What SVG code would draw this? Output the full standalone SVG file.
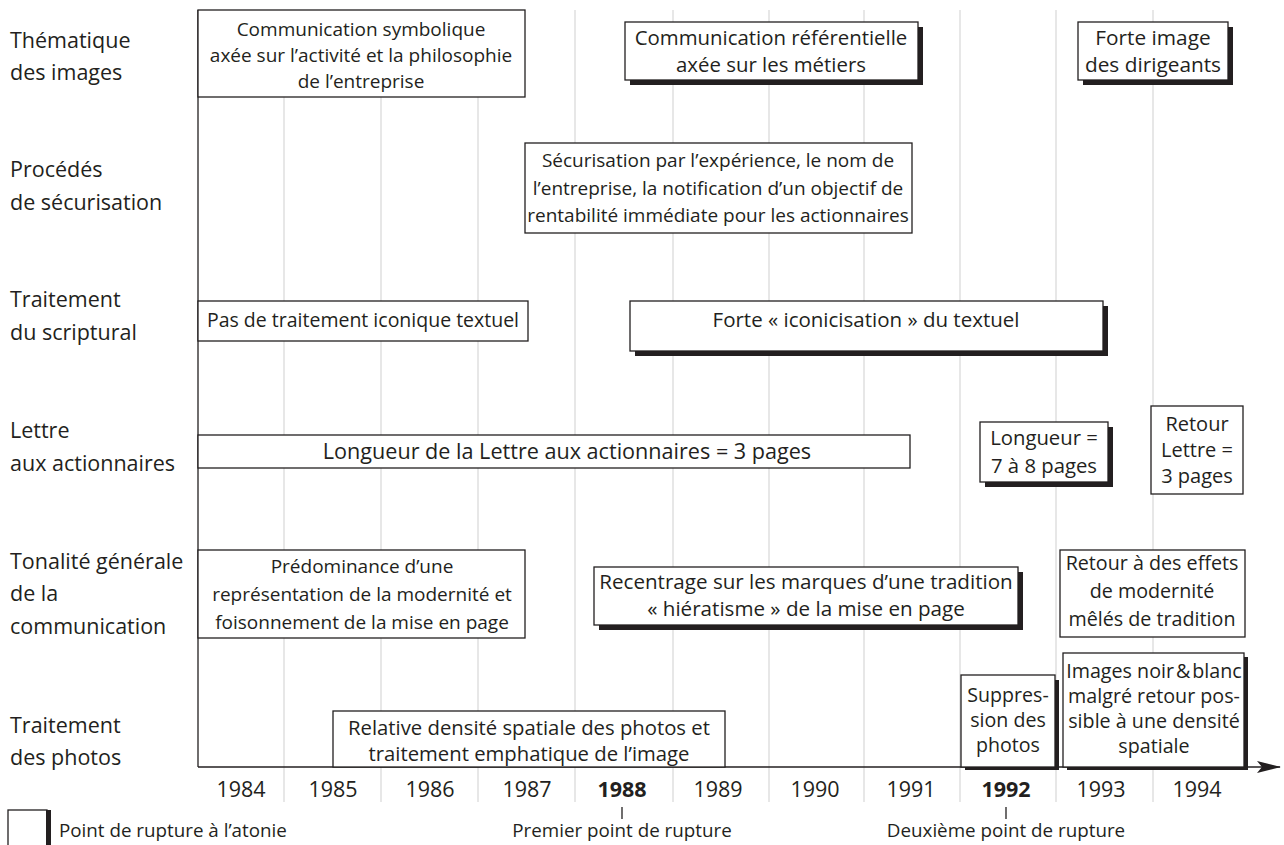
<svg xmlns="http://www.w3.org/2000/svg" width="1284" height="845" viewBox="0 0 1284 845">
<style>
text{font-family:"Open Sans","Noto Sans","DejaVu Sans",sans-serif;fill:#231f20}
.lab{font-size:21.5px}
.bt{font-size:19px;text-anchor:middle}
.yr{font-size:21.5px;text-anchor:middle}
.yb{font-weight:bold}
.lg{font-size:18.8px}
.grid{stroke:#cfcfcf;stroke-width:1}
.box{fill:#fff;stroke:#231f20;stroke-width:1.3}
.sh{fill:#231f20}
.ax{stroke:#231f20;stroke-width:1.3;fill:none}
</style>
<defs>
<marker id="arr" markerWidth="24" markerHeight="14" refX="23" refY="7" orient="auto" markerUnits="userSpaceOnUse">
<path d="M0,1 L24,7 L0,13 L5,7 Z" fill="#231f20"/>
</marker>
</defs>

<g id="grid">
<line class="grid" x1="284" y1="10" x2="284" y2="802"/>
<line class="grid" x1="381" y1="10" x2="381" y2="802"/>
<line class="grid" x1="478" y1="10" x2="478" y2="802"/>
<line class="grid" x1="575" y1="10" x2="575" y2="802"/>
<line class="grid" x1="673" y1="10" x2="673" y2="802"/>
<line class="grid" x1="769" y1="10" x2="769" y2="802"/>
<line class="grid" x1="864" y1="10" x2="864" y2="802"/>
<line class="grid" x1="960" y1="10" x2="960" y2="802"/>
<line class="grid" x1="1056" y1="10" x2="1056" y2="802"/>
<line class="grid" x1="1153" y1="10" x2="1153" y2="802"/>
</g>

<g id="row-labels">
<text class="lab" x="10" y="48">Thématique</text>
<text class="lab" x="10" y="80">des images</text>
<text class="lab" x="10" y="177">Procédés</text>
<text class="lab" x="10" y="210">de sécurisation</text>
<text class="lab" x="10" y="307">Traitement</text>
<text class="lab" x="10" y="340">du scriptural</text>
<text class="lab" x="10" y="438">Lettre</text>
<text class="lab" x="10" y="471">aux actionnaires</text>
<text class="lab" x="10" y="569">Tonalité générale</text>
<text class="lab" x="10" y="601">de la</text>
<text class="lab" x="10" y="634">communication</text>
<text class="lab" x="10" y="733">Traitement</text>
<text class="lab" x="10" y="765">des photos</text>
</g>

<g id="axes">
<line class="ax" x1="198" y1="10" x2="198" y2="767"/>
<line class="ax" x1="198" y1="767" x2="1280" y2="767" marker-end="url(#arr)"/>
</g>

<g id="n1">
<rect class="box" x="198" y="10" width="327" height="87"/>
<text class="bt" x="361" y="36">Communication symbolique</text>
<text class="bt" x="361" y="62">axée sur l’activité et la philosophie</text>
<text class="bt" x="361" y="88">de l’entreprise</text>
</g>
<g id="n2">
<rect class="sh" x="630" y="27" width="293" height="58"/>
<rect class="box" x="625" y="22" width="293" height="58"/>
<text class="bt" style="font-size:20.4px" x="771" y="45">Communication référentielle</text>
<text class="bt" style="font-size:20.4px" x="771" y="72">axée sur les métiers</text>
</g>
<g id="n3">
<rect class="sh" x="1083" y="27" width="150" height="58"/>
<rect class="box" x="1078" y="22" width="150" height="58"/>
<text class="bt" style="font-size:20.8px" x="1153" y="45">Forte image</text>
<text class="bt" style="font-size:20.8px" x="1153" y="72">des dirigeants</text>
</g>
<g id="n4">
<rect class="box" x="525" y="143" width="387" height="90"/>
<text class="bt" x="718" y="167">Sécurisation par l’expérience, le nom de</text>
<text class="bt" x="718" y="195">l’entreprise, la notification d’un objectif de</text>
<text class="bt" x="718" y="222">rentabilité immédiate pour les actionnaires</text>
</g>
<g id="n5">
<rect class="box" x="198" y="301" width="330" height="40"/>
<text class="bt" style="font-size:19.5px" x="363" y="327">Pas de traitement iconique textuel</text>
</g>
<g id="n6">
<rect class="sh" x="635" y="306" width="473" height="50"/>
<rect class="box" x="630" y="301" width="473" height="50"/>
<text class="bt" style="font-size:20.5px" x="866" y="327">Forte « iconicisation » du textuel</text>
</g>
<g id="n7">
<rect class="box" x="198" y="435" width="712" height="33"/>
<text class="bt" style="font-size:21.6px" x="567" y="459">Longueur de la Lettre aux actionnaires = 3 pages</text>
</g>
<g id="n8">
<rect class="sh" x="985" y="427" width="128" height="60"/>
<rect class="box" x="980" y="422" width="128" height="60"/>
<text class="bt" style="font-size:20.3px" x="1044" y="445">Longueur =</text>
<text class="bt" style="font-size:20.3px" x="1044" y="473">7 à 8 pages</text>
</g>
<g id="n9">
<rect class="box" x="1151" y="406" width="92" height="88"/>
<text class="bt" style="font-size:20px" x="1197" y="431">Retour</text>
<text class="bt" style="font-size:20px" x="1197" y="457">Lettre =</text>
<text class="bt" style="font-size:20px" x="1197" y="483">3 pages</text>
</g>
<g id="n10">
<rect class="box" x="198" y="550" width="327" height="88"/>
<text class="bt" x="362" y="573">Prédominance d’une</text>
<text class="bt" x="362" y="601">représentation de la modernité et</text>
<text class="bt" x="362" y="629">foisonnement de la mise en page</text>
</g>
<g id="n11">
<rect class="sh" x="599" y="572" width="424" height="58"/>
<rect class="box" x="594" y="567" width="424" height="58"/>
<text class="bt" style="font-size:20.6px" x="806" y="589">Recentrage sur les marques d’une tradition</text>
<text class="bt" style="font-size:20.6px" x="806" y="616">« hiératisme » de la mise en page</text>
</g>
<g id="n12">
<rect class="box" x="1060" y="550" width="185" height="87"/>
<text class="bt" style="font-size:19.7px" x="1152" y="570">Retour à des effets</text>
<text class="bt" style="font-size:19.7px" x="1152" y="598">de modernité</text>
<text class="bt" style="font-size:19.7px" x="1152" y="626">mêlés de tradition</text>
</g>
<g id="n13">
<rect class="box" x="333" y="711" width="392" height="56"/>
<text class="bt" style="font-size:20.3px" x="529" y="735">Relative densité spatiale des photos et</text>
<text class="bt" style="font-size:20.3px" x="529" y="761">traitement emphatique de l’image</text>
</g>
<g id="n14">
<rect class="sh" x="965" y="680" width="94" height="90"/>
<rect class="box" x="961" y="675" width="94" height="92"/>
<text class="bt" style="font-size:19.6px" x="1008" y="702">Suppres-</text>
<text class="bt" style="font-size:19.6px" x="1008" y="727">sion des</text>
<text class="bt" style="font-size:19.6px" x="1008" y="752">photos</text>
</g>
<g id="n15">
<rect class="sh" x="1067" y="657" width="181" height="113"/>
<rect class="box" x="1063" y="653" width="181" height="114"/>
<text class="bt" style="font-size:19.7px" x="1154" y="678">Images noir&#8202;&amp;&#8202;blanc</text>
<text class="bt" style="font-size:19.7px" x="1154" y="703">malgré retour pos-</text>
<text class="bt" style="font-size:19.7px" x="1154" y="728">sible à une densité</text>
<text class="bt" style="font-size:19.7px" x="1154" y="753">spatiale</text>
</g>

<g id="years">
<text class="yr" x="241" y="797">1984</text>
<text class="yr" x="333" y="797">1985</text>
<text class="yr" x="430" y="797">1986</text>
<text class="yr" x="527" y="797">1987</text>
<text class="yr yb" x="622" y="797">1988</text>
<text class="yr" x="718" y="797">1989</text>
<text class="yr" x="815" y="797">1990</text>
<text class="yr" x="911" y="797">1991</text>
<text class="yr yb" x="1006" y="797">1992</text>
<text class="yr" x="1101" y="797">1993</text>
<text class="yr" x="1197" y="797">1994</text>
</g>

<g id="legend">
<rect class="box" x="8" y="810" width="39" height="45"/>
<rect class="sh" x="46" y="810" width="5" height="35"/>
<text class="lg" x="59" y="837">Point de rupture à l’atonie</text>
<line class="ax" x1="622" y1="807" x2="622" y2="819"/>
<text class="lg" x="622" y="837" text-anchor="middle">Premier point de rupture</text>
<line class="ax" x1="1006" y1="807" x2="1006" y2="819"/>
<text class="lg" x="1006" y="837" text-anchor="middle">Deuxième point de rupture</text>
</g>
</svg>
